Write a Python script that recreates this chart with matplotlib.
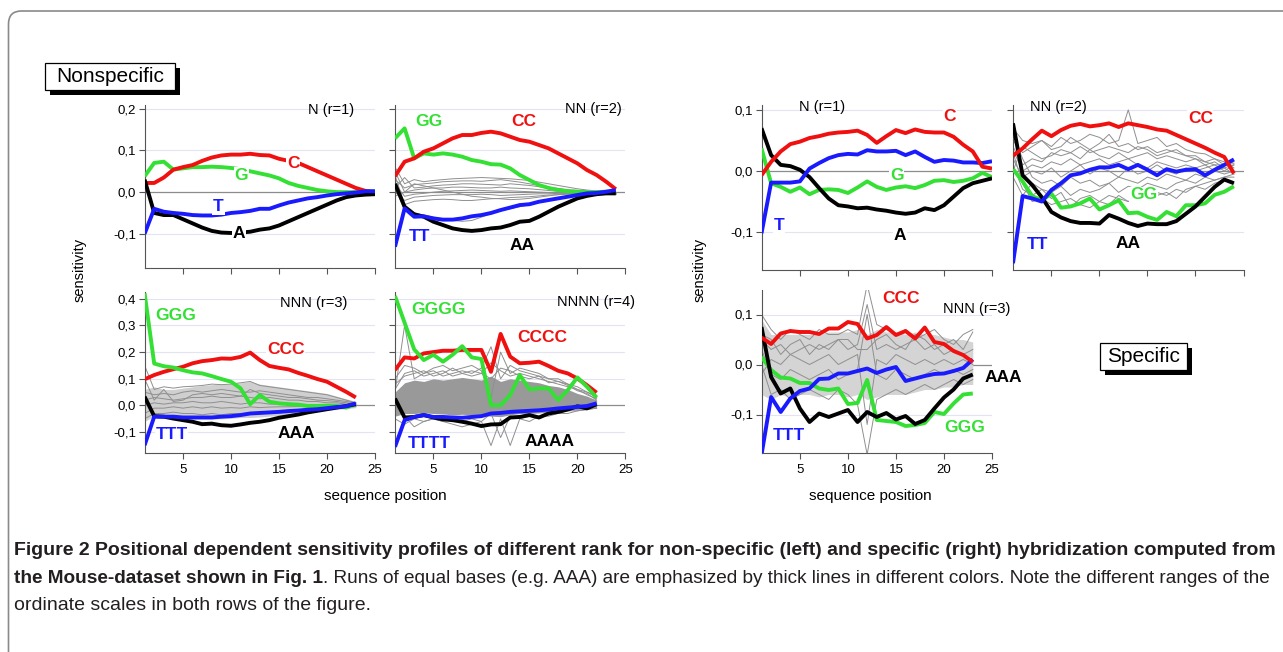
import matplotlib
matplotlib.use("Agg")
import matplotlib.pyplot as plt
from matplotlib.patches import Rectangle, FancyBboxPatch
from matplotlib.transforms import IdentityTransform
from matplotlib.ticker import FuncFormatter

W, H = 1283, 652

# ---- nonspecific, rank 1 (positions 1..25)
ns1_C = [0.022, 0.022, 0.035, 0.054, 0.060, 0.065, 0.075, 0.083, 0.088, 0.090, 0.090, 0.092, 0.089, 0.088, 0.080, 0.075, 0.070, 0.060, 0.050, 0.040, 0.030, 0.020, 0.010, 0.003, 0.000]
ns1_G = [0.038, 0.070, 0.073, 0.054, 0.057, 0.060, 0.060, 0.061, 0.060, 0.058, 0.055, 0.050, 0.045, 0.040, 0.033, 0.022, 0.015, 0.010, 0.005, 0.002, 0.000, 0.000, 0.000, 0.001, 0.002]
ns1_T = [-0.100, -0.040, -0.047, -0.050, -0.052, -0.055, -0.056, -0.056, -0.054, -0.050, -0.048, -0.045, -0.040, -0.040, -0.032, -0.025, -0.020, -0.015, -0.012, -0.008, -0.005, -0.003, -0.001, 0.002, 0.002]
ns1_A = [0.030, -0.050, -0.055, -0.055, -0.065, -0.075, -0.085, -0.093, -0.097, -0.098, -0.097, -0.095, -0.090, -0.087, -0.080, -0.070, -0.060, -0.050, -0.040, -0.030, -0.020, -0.012, -0.008, -0.006, -0.005]

# ---- nonspecific, rank 2 (positions 1..24)
ns2_C = [0.038, 0.073, 0.081, 0.097, 0.105, 0.117, 0.129, 0.137, 0.137, 0.142, 0.145, 0.141, 0.133, 0.125, 0.121, 0.113, 0.105, 0.093, 0.081, 0.069, 0.053, 0.041, 0.025, 0.007]
ns2_G = [0.129, 0.153, 0.081, 0.093, 0.090, 0.093, 0.090, 0.085, 0.077, 0.073, 0.067, 0.066, 0.057, 0.041, 0.029, 0.017, 0.010, 0.005, 0.002, 0.001, 0.000, 0.000, 0.001, 0.002]
ns2_T = [-0.131, -0.039, -0.059, -0.058, -0.063, -0.066, -0.066, -0.063, -0.058, -0.055, -0.050, -0.043, -0.037, -0.031, -0.029, -0.023, -0.019, -0.015, -0.011, -0.007, -0.003, -0.002, 0.001, 0.005]
ns2_A = [0.020, -0.035, -0.053, -0.059, -0.071, -0.079, -0.087, -0.091, -0.093, -0.091, -0.087, -0.085, -0.079, -0.071, -0.069, -0.059, -0.047, -0.035, -0.025, -0.015, -0.009, -0.005, -0.003, -0.003]
ns2_gray = [
    [0.06, 0.02, 0.03, 0.025, 0.028, 0.03, 0.032, 0.033, 0.034, 0.035, 0.034, 0.033, 0.032, 0.030, 0.028, 0.024, 0.02, 0.016, 0.012, 0.008, 0.005, 0.003, 0.001, -0.002],
    [0.03, 0.01, 0.018, 0.02, 0.022, 0.025, 0.026, 0.027, 0.027, 0.026, 0.028, 0.03, 0.027, 0.024, 0.02, 0.016, 0.012, 0.009, 0.006, 0.004, 0.002, 0.0, -0.001, -0.003],
    [0.01, 0.035, 0.01, 0.012, 0.015, 0.017, 0.018, 0.02, 0.02, 0.019, 0.018, 0.017, 0.02, 0.018, 0.016, 0.013, 0.01, 0.007, 0.004, 0.002, 0.0, -0.001, -0.002, -0.004],
    [-0.01, 0.0, 0.005, 0.008, 0.01, 0.01, 0.012, 0.012, 0.011, 0.01, 0.01, 0.012, 0.01, 0.009, 0.008, 0.006, 0.004, 0.002, 0.0, -0.001, -0.002, -0.002, -0.003, -0.004],
    [0.02, -0.01, -0.005, -0.003, 0.0, 0.002, 0.003, 0.004, 0.005, 0.004, 0.003, 0.002, 0.003, 0.002, 0.001, 0.0, -0.001, -0.002, -0.002, -0.003, -0.003, -0.003, -0.004, -0.005],
    [0.0, -0.02, -0.012, -0.01, -0.008, -0.007, -0.006, -0.006, -0.006, -0.005, -0.006, -0.008, -0.007, -0.006, -0.005, -0.004, -0.004, -0.003, -0.003, -0.003, -0.003, -0.003, -0.004, -0.005],
    [0.04, -0.03, -0.022, -0.02, -0.018, -0.017, -0.018, -0.02, -0.02, -0.018, -0.016, -0.015, -0.013, -0.012, -0.011, -0.009, -0.007, -0.006, -0.005, -0.004, -0.003, -0.003, -0.004, -0.005],
    [0.015, -0.045, -0.05, -0.055, -0.06, -0.065, -0.068, -0.07, -0.068, -0.06, -0.052, -0.045, -0.04, -0.035, -0.03, -0.025, -0.02, -0.015, -0.012, -0.009, -0.006, -0.004, -0.003, -0.004],
    [0.05, 0.0, 0.02, 0.015, 0.01, 0.005, 0.0, -0.005, -0.01, -0.012, -0.015, -0.016, -0.018, -0.017, -0.015, -0.012, -0.009, -0.006, -0.004, -0.003, -0.002, -0.002, -0.003, -0.005],
]

# ---- nonspecific, rank 3 (positions 1..23)
ns3_G = [0.420, 0.157, 0.147, 0.142, 0.132, 0.124, 0.120, 0.110, 0.099, 0.089, 0.064, 0.005, 0.039, 0.014, 0.008, 0.005, 0.003, -0.002, -0.002, -0.001, -0.001, -0.008, 0.005]
ns3_C = [0.098, 0.114, 0.126, 0.136, 0.145, 0.158, 0.166, 0.170, 0.176, 0.175, 0.182, 0.198, 0.170, 0.148, 0.141, 0.135, 0.122, 0.111, 0.099, 0.089, 0.070, 0.051, 0.030]
ns3_T = [-0.149, -0.042, -0.042, -0.042, -0.045, -0.045, -0.045, -0.045, -0.042, -0.040, -0.036, -0.030, -0.028, -0.026, -0.024, -0.021, -0.019, -0.016, -0.014, -0.010, -0.006, -0.003, 0.008]
ns3_A = [0.033, -0.040, -0.042, -0.049, -0.055, -0.061, -0.070, -0.068, -0.074, -0.076, -0.071, -0.065, -0.061, -0.055, -0.046, -0.040, -0.034, -0.026, -0.020, -0.014, -0.008, -0.002, 0.005]
ns3_upper = [0.06, 0.07, 0.06, 0.06, 0.065, 0.07, 0.075, 0.078, 0.08, 0.08, 0.085, 0.09, 0.08, 0.075, 0.07, 0.065, 0.06, 0.055, 0.05, 0.045, 0.035, 0.025, 0.015]
ns3_lower = [-0.06, -0.04, -0.045, -0.045, -0.048, -0.05, -0.05, -0.05, -0.05, -0.048, -0.045, -0.045, -0.043, -0.04, -0.038, -0.035, -0.03, -0.026, -0.022, -0.018, -0.015, -0.012, -0.008]
ns3_gray = [
    [0.15, 0.06, 0.07, 0.065, 0.07, 0.072, 0.075, 0.08, 0.078, 0.08, 0.085, 0.09, 0.075, 0.07, 0.065, 0.06, 0.055, 0.05, 0.045, 0.04, 0.03, 0.02, 0.01],
    [0.05, 0.04, 0.045, 0.04, 0.05, 0.055, 0.05, 0.055, 0.06, 0.055, 0.05, 0.05, 0.055, 0.05, 0.045, 0.04, 0.035, 0.03, 0.03, 0.025, 0.02, 0.015, 0.008],
    [0.02, 0.03, 0.025, 0.02, 0.025, 0.03, 0.03, 0.035, 0.03, 0.03, 0.035, 0.03, 0.025, 0.03, 0.025, 0.02, 0.02, 0.015, 0.015, 0.01, 0.01, 0.005, 0.003],
    [0.0, 0.01, 0.005, 0.01, 0.01, 0.015, 0.01, 0.01, 0.015, 0.01, 0.005, 0.01, 0.01, 0.005, 0.005, 0.005, 0.0, 0.0, 0.0, 0.0, -0.002, 0.0, 0.0],
    [-0.03, -0.01, -0.01, -0.005, -0.01, -0.005, -0.01, -0.005, -0.01, -0.008, -0.01, -0.005, -0.008, -0.006, -0.005, -0.005, -0.004, -0.004, -0.003, -0.003, -0.003, -0.002, -0.002],
    [-0.05, -0.03, -0.03, -0.025, -0.03, -0.03, -0.035, -0.03, -0.035, -0.03, -0.03, -0.028, -0.025, -0.025, -0.022, -0.02, -0.018, -0.015, -0.012, -0.01, -0.008, -0.006, -0.004],
    [0.1, 0.02, 0.06, 0.015, 0.02, 0.04, 0.045, 0.04, 0.045, 0.04, 0.035, 0.06, 0.045, 0.04, 0.035, 0.03, 0.03, 0.025, 0.02, 0.018, 0.015, 0.01, 0.005],
]

# ---- nonspecific, rank 4 (positions 1..22)
ns4_G = [0.410, 0.310, 0.210, 0.170, 0.190, 0.164, 0.190, 0.222, 0.180, 0.174, 0.001, 0.001, 0.039, 0.114, 0.060, 0.064, 0.064, 0.020, 0.058, 0.105, 0.070, 0.030]
ns4_C = [0.133, 0.180, 0.176, 0.195, 0.200, 0.205, 0.205, 0.208, 0.208, 0.208, 0.126, 0.268, 0.183, 0.158, 0.160, 0.164, 0.148, 0.130, 0.120, 0.101, 0.076, 0.048]
ns4_T = [-0.155, -0.055, -0.043, -0.036, -0.043, -0.043, -0.045, -0.046, -0.043, -0.040, -0.030, -0.028, -0.024, -0.022, -0.020, -0.018, -0.015, -0.011, -0.008, -0.005, -0.002, 0.008]
ns4_A = [0.026, -0.045, -0.043, -0.036, -0.045, -0.052, -0.055, -0.061, -0.068, -0.077, -0.071, -0.070, -0.045, -0.043, -0.036, -0.045, -0.030, -0.024, -0.015, -0.003, -0.011, 0.005]
ns4_upper = [0.05, 0.085, 0.095, 0.09, 0.1, 0.095, 0.1, 0.105, 0.1, 0.095, 0.11, 0.09, 0.1, 0.095, 0.09, 0.085, 0.075, 0.07, 0.06, 0.045, 0.035, 0.02]
ns4_lower = [-0.04, -0.03, -0.03, -0.028, -0.03, -0.032, -0.035, -0.033, -0.035, -0.038, -0.04, -0.042, -0.035, -0.03, -0.03, -0.028, -0.025, -0.02, -0.018, -0.015, -0.012, -0.01]
ns4_gray = [
    [0.05, 0.3, 0.1, 0.12, 0.13, 0.11, 0.12, 0.13, 0.12, 0.14, 0.22, 0.1, 0.15, 0.13, 0.12, 0.11, 0.1, 0.09, 0.08, 0.06, 0.05, 0.03],
    [0.1, 0.15, 0.14, 0.12, 0.14, 0.15, 0.13, 0.14, 0.15, 0.13, 0.03, 0.2, 0.12, 0.14, 0.13, 0.12, 0.1, 0.1, 0.08, 0.07, 0.05, 0.035],
    [0.08, 0.11, 0.12, 0.13, 0.11, 0.12, 0.14, 0.12, 0.13, 0.12, 0.16, 0.13, 0.11, 0.12, 0.11, 0.1, 0.09, 0.08, 0.07, 0.06, 0.04, 0.025],
    [0.06, 0.12, 0.13, 0.11, 0.12, 0.13, 0.11, 0.12, 0.11, 0.12, 0.1, 0.14, 0.13, 0.11, 0.1, 0.11, 0.085, 0.09, 0.075, 0.055, 0.045, 0.02],
    [-0.05, -0.07, -0.05, -0.06, -0.05, -0.06, -0.05, -0.06, -0.05, -0.06, -0.15, -0.05, -0.15, -0.05, -0.04, -0.05, -0.03, -0.03, -0.02, -0.02, -0.015, -0.01],
    [0.0, -0.04, -0.08, -0.06, -0.05, -0.06, -0.07, -0.08, -0.07, -0.06, -0.03, -0.12, -0.04, -0.05, -0.06, -0.04, -0.04, -0.03, -0.03, -0.02, -0.015, -0.01],
]

# ---- specific, rank 1 (positions 1..25)
sp1_C = [-0.007, 0.015, 0.032, 0.044, 0.048, 0.054, 0.057, 0.061, 0.063, 0.064, 0.066, 0.059, 0.046, 0.057, 0.067, 0.062, 0.068, 0.064, 0.063, 0.063, 0.056, 0.043, 0.032, 0.007, 0.004]
sp1_T = [-0.102, -0.019, -0.019, -0.019, -0.017, 0.004, 0.013, 0.021, 0.026, 0.028, 0.027, 0.034, 0.032, 0.032, 0.033, 0.026, 0.032, 0.023, 0.015, 0.018, 0.017, 0.014, 0.014, 0.013, 0.016]
sp1_G = [0.037, -0.020, -0.026, -0.034, -0.027, -0.038, -0.031, -0.030, -0.031, -0.036, -0.027, -0.017, -0.026, -0.031, -0.027, -0.025, -0.028, -0.023, -0.016, -0.015, -0.018, -0.016, -0.012, -0.003, -0.010]
sp1_A = [0.070, 0.026, 0.010, 0.008, 0.002, -0.010, -0.028, -0.045, -0.056, -0.058, -0.061, -0.060, -0.063, -0.065, -0.068, -0.070, -0.068, -0.061, -0.064, -0.056, -0.042, -0.028, -0.020, -0.016, -0.012]

# ---- specific, rank 2 (positions 1..24)
sp2_C = [0.025, 0.037, 0.052, 0.066, 0.057, 0.067, 0.074, 0.077, 0.073, 0.075, 0.078, 0.072, 0.078, 0.075, 0.072, 0.068, 0.066, 0.059, 0.052, 0.045, 0.038, 0.030, 0.023, -0.004]
sp2_A = [0.078, -0.007, -0.023, -0.043, -0.067, -0.076, -0.082, -0.085, -0.085, -0.086, -0.072, -0.078, -0.085, -0.090, -0.086, -0.087, -0.087, -0.082, -0.070, -0.058, -0.042, -0.026, -0.014, -0.020]
sp2_G = [0.003, -0.017, -0.041, -0.048, -0.037, -0.060, -0.058, -0.053, -0.045, -0.063, -0.056, -0.048, -0.069, -0.068, -0.075, -0.080, -0.067, -0.074, -0.056, -0.056, -0.053, -0.039, -0.034, -0.025]
sp2_T = [-0.151, -0.041, -0.045, -0.050, -0.031, -0.020, -0.007, -0.004, 0.002, 0.006, 0.006, 0.010, 0.003, 0.010, 0.002, -0.007, 0.003, -0.001, 0.002, 0.003, -0.007, 0.002, 0.010, 0.019]
sp2_gray = [
    [0.07, 0.05, 0.045, 0.05, 0.04, 0.055, 0.045, 0.05, 0.06, 0.055, 0.045, 0.05, 0.1, 0.045, 0.05, 0.055, 0.04, 0.045, 0.035, 0.03, 0.028, 0.02, 0.015, 0.005],
    [0.05, 0.03, 0.04, 0.05, 0.035, 0.04, 0.055, 0.045, 0.035, 0.045, 0.06, 0.04, 0.045, 0.035, 0.04, 0.03, 0.035, 0.03, 0.025, 0.025, 0.015, 0.01, 0.01, 0.012],
    [0.04, 0.01, 0.02, 0.015, 0.03, 0.025, 0.03, 0.02, 0.035, 0.025, 0.02, 0.03, 0.02, 0.025, 0.03, 0.02, 0.025, 0.02, 0.015, 0.02, 0.01, 0.015, 0.005, 0.01],
    [0.035, 0.0, 0.01, 0.005, 0.015, 0.01, 0.02, 0.01, 0.015, 0.02, 0.01, 0.015, 0.02, 0.01, 0.005, 0.015, 0.01, 0.005, 0.01, 0.005, 0.01, 0.0, 0.005, -0.005],
    [0.02, -0.01, 0.0, -0.005, 0.005, -0.01, 0.0, 0.01, -0.005, 0.005, 0.0, -0.01, 0.005, -0.005, 0.0, 0.01, 0.0, -0.005, 0.005, 0.0, 0.005, 0.01, 0.0, 0.01],
    [0.06, 0.02, -0.01, -0.02, -0.015, -0.025, -0.01, -0.02, -0.015, -0.025, -0.02, -0.01, -0.015, -0.02, -0.01, -0.015, -0.005, -0.01, -0.015, -0.005, -0.01, 0.0, -0.005, 0.0],
    [0.01, -0.03, -0.04, -0.03, -0.035, -0.025, -0.04, -0.03, -0.035, -0.03, -0.02, -0.035, -0.025, -0.03, -0.02, -0.025, -0.03, -0.02, -0.015, -0.02, -0.01, -0.015, -0.01, -0.01],
    [0.03, -0.02, -0.05, -0.045, -0.055, -0.05, -0.045, -0.055, -0.06, -0.05, -0.04, -0.045, -0.05, -0.04, -0.045, -0.035, -0.04, -0.03, -0.035, -0.025, -0.02, -0.015, -0.01, -0.005],
    [0.0, 0.04, 0.03, 0.02, 0.025, 0.035, 0.03, 0.04, 0.03, 0.035, 0.04, 0.035, 0.03, 0.04, 0.035, 0.025, 0.03, 0.035, 0.025, 0.02, 0.015, 0.02, 0.01, 0.015],
    [-0.01, -0.04, -0.02, -0.03, -0.045, -0.035, -0.06, -0.045, -0.04, -0.05, -0.055, -0.04, -0.05, -0.045, -0.05, -0.04, -0.035, -0.045, -0.03, -0.025, -0.03, -0.02, -0.015, -0.02],
]

# ---- specific, rank 3 (positions 1..23)
sp3_C = [0.054, 0.041, 0.062, 0.067, 0.065, 0.065, 0.061, 0.072, 0.072, 0.085, 0.081, 0.052, 0.059, 0.075, 0.059, 0.067, 0.052, 0.074, 0.045, 0.041, 0.027, 0.019, 0.005]
sp3_T = [-0.181, -0.065, -0.095, -0.068, -0.053, -0.048, -0.029, -0.028, -0.018, -0.018, -0.013, -0.008, -0.017, -0.010, -0.005, -0.033, -0.028, -0.023, -0.019, -0.018, -0.013, -0.007, 0.010]
sp3_A = [0.075, -0.025, -0.058, -0.048, -0.088, -0.115, -0.098, -0.105, -0.098, -0.091, -0.115, -0.095, -0.105, -0.097, -0.110, -0.103, -0.119, -0.111, -0.088, -0.066, -0.050, -0.028, -0.020]
sp3_G = [0.015, -0.011, -0.026, -0.028, -0.037, -0.037, -0.048, -0.051, -0.048, -0.079, -0.077, -0.031, -0.111, -0.113, -0.115, -0.123, -0.121, -0.117, -0.095, -0.099, -0.078, -0.060, -0.058]
sp3_upper = [0.09, 0.06, 0.06, 0.06, 0.06, 0.06, 0.06, 0.065, 0.065, 0.065, 0.07, 0.06, 0.07, 0.065, 0.065, 0.06, 0.065, 0.06, 0.06, 0.055, 0.05, 0.05, 0.045]
sp3_lower = [-0.06, -0.07, -0.06, -0.065, -0.06, -0.06, -0.065, -0.06, -0.06, -0.065, -0.06, -0.07, -0.065, -0.06, -0.06, -0.06, -0.055, -0.05, -0.05, -0.045, -0.045, -0.04, -0.04]
sp3_gray = [
    [0.1, 0.07, 0.05, 0.07, 0.06, 0.05, 0.07, 0.06, 0.06, 0.07, 0.06, 0.16, 0.08, 0.07, 0.06, 0.07, 0.05, 0.06, 0.07, 0.05, 0.04, 0.06, 0.07],
    [0.0, -0.06, -0.05, -0.07, -0.06, -0.05, -0.06, -0.07, -0.05, -0.06, -0.08, -0.18, -0.07, -0.06, -0.05, -0.06, -0.05, -0.04, -0.05, -0.04, -0.03, -0.04, -0.03],
    [0.05, 0.03, 0.04, 0.02, 0.03, 0.04, 0.03, 0.04, 0.05, 0.03, 0.04, 0.12, 0.03, 0.04, 0.03, 0.04, 0.05, 0.03, 0.04, 0.02, 0.03, 0.02, 0.03],
    [-0.02, 0.01, 0.0, 0.02, 0.01, 0.0, 0.01, 0.02, 0.0, 0.01, 0.02, -0.12, 0.01, 0.0, 0.02, 0.01, 0.0, 0.01, 0.0, 0.01, 0.0, 0.01, 0.0],
    [0.03, -0.02, -0.03, -0.01, -0.02, -0.03, -0.02, -0.01, -0.03, -0.02, -0.01, 0.1, -0.02, -0.03, -0.01, -0.02, -0.03, -0.02, -0.01, -0.02, -0.01, -0.02, -0.01],
    [0.06, 0.05, 0.02, 0.04, 0.05, 0.02, 0.04, 0.03, 0.05, 0.05, 0.03, 0.03, 0.05, 0.06, 0.04, 0.03, 0.06, 0.05, 0.03, 0.04, 0.05, 0.03, 0.065],
]

RED, GREEN, BLUE, BLACK = "#f01010", "#33e033", "#1a1aff", "#000000"
CHART_FONT = ["Liberation Sans", "DejaVu Sans"]
CAP_FONT = ["Liberation Sans", "DejaVu Sans"]


def box(l, t, r, b):
    """pixel box (left, top, right, bottom) -> figure fraction rect"""
    return [l / W, 1 - b / H, (r - l) / W, (b - t) / H]


def comma(v, pos):
    return f"{v:.1f}".replace(".", ",")


def draw_panel(ax, runs, ylim, yticks, ylabels, xlabels, grays=(), band=None, band_color="#cccccc"):
    ax.set_xlim(1, 25)
    ax.set_ylim(*ylim)
    for yt in yticks:
        if yt == 0:
            ax.axhline(0, color="#8c8c8c", lw=0.9, zorder=1)
        else:
            ax.axhline(yt, color="#e3e3f3", lw=0.8, zorder=0)
    if band is not None:
        lo, hi = band
        xs = list(range(1, len(hi) + 1))
        ax.fill_between(xs, lo, hi, color=band_color, lw=0, zorder=1)
    for g in grays:
        ax.plot(range(1, len(g) + 1), g, color="#8f8f8f", lw=0.7, zorder=2)
    for vals, col in runs:
        ax.plot(range(1, len(vals) + 1), vals, color=col, lw=2.8, zorder=3,
                solid_joinstyle="round", solid_capstyle="butt")
    for s in ("top", "right"):
        ax.spines[s].set_visible(False)
    for s in ("left", "bottom"):
        ax.spines[s].set_color("#555555")
        ax.spines[s].set_linewidth(0.8)
    ax.set_xticks([5, 10, 15, 20, 25])
    ax.set_yticks(yticks)
    ax.yaxis.set_major_formatter(FuncFormatter(comma))
    ax.tick_params(direction="out", length=4, width=0.8, color="#555555",
                   labelsize=9.5, pad=2)
    ax.tick_params(axis="x", labelbottom=xlabels, pad=4)
    ax.tick_params(axis="y", labelleft=ylabels)
    for lab in ax.get_xticklabels() + ax.get_yticklabels():
        lab.set_family(CHART_FONT)
    ax.set_facecolor("none")


def put_labels(ax, labels, title, title_xy, title_ha="center"):
    for x, y, s, col in labels:
        ax.text(x, y, s, color=col, fontsize=12.5, fontweight="bold", ha="center",
                va="center", family=CHART_FONT, zorder=5,
                bbox=dict(fc="white", ec="none", pad=0.5))
    ax.text(title_xy[0], title_xy[1], title, fontsize=10.5, ha=title_ha, va="center",
            family=CHART_FONT, zorder=5)


def shadow_box(fig, l, t, r, b, text):
    # black drop shadow, then the white box on top
    fig.add_artist(Rectangle(((l + 5) / W, 1 - (b + 5) / H), (r - l) / W, (b - t) / H,
                             transform=fig.transFigure, fc="black", ec="none"))
    fig.add_artist(Rectangle((l / W, 1 - b / H), (r - l) / W, (b - t) / H,
                             transform=fig.transFigure, fc="white", ec="black", lw=0.9))
    fig.text((l + r) / 2 / W, 1 - (t + b) / 2 / H, text, fontsize=15, ha="center",
             va="center", family=CHART_FONT)


def fit_width(fig, texts, target, fs):
    """scale font size of a row of texts so that the row spans target pixels"""
    r = fig.canvas.get_renderer()
    for _ in range(3):
        fig.canvas.draw()
        x0 = texts[0].get_window_extent(r).x0
        x1 = texts[-1].get_window_extent(r).x1
        fs = fs * target / (x1 - x0)
        for t in texts:
            t.set_fontsize(fs)
        if len(texts) > 1:
            fig.canvas.draw()
            xa = texts[0].get_window_extent(r).x1
            texts[1].set_x(xa / W)
    return fs


def main():
    fig = plt.figure(figsize=(W / 100, H / 100), dpi=100)

    # outer rounded frame
    fig.add_artist(FancyBboxPatch((8.5, -60), 1400, H - 11 + 60,
                                  boxstyle="round,pad=0,rounding_size=13",
                                  transform=IdentityTransform(), fc="none",
                                  ec="#8a8a8a", lw=1.2))

    # ---------------- nonspecific
    ax = fig.add_axes(box(144.6, 105, 375, 268))
    draw_panel(ax, [(ns1_G, GREEN), (ns1_C, RED), (ns1_A, BLACK), (ns1_T, BLUE)],
               (-0.182, 0.209), [-0.1, 0.0, 0.1, 0.2], True, False)
    put_labels(ax, [(16.5, 0.069, "C", RED), (11.1, 0.041, "G", GREEN),
                    (8.7, -0.035, "T", BLUE), (10.8, -0.1, "A", BLACK)],
               "N (r=1)", (20.4, 0.197))

    ax = fig.add_axes(box(395, 105, 625.4, 268))
    draw_panel(ax, [(ns2_G, GREEN), (ns2_C, RED), (ns2_A, BLACK), (ns2_T, BLUE)],
               (-0.182, 0.209), [-0.1, 0.0, 0.1, 0.2], False, False, grays=ns2_gray)
    put_labels(ax, [(4.5, 0.169, "GG", GREEN), (14.4, 0.169, "CC", RED),
                    (3.6, -0.107, "TT", BLUE), (14.2, -0.127, "AA", BLACK)],
               "NN (r=2)", (21.7, 0.2))

    ax = fig.add_axes(box(144.6, 292, 375, 453))
    draw_panel(ax, [(ns3_C, RED), (ns3_G, GREEN), (ns3_A, BLACK), (ns3_T, BLUE)],
               (-0.178, 0.425), [-0.1, 0.0, 0.1, 0.2, 0.3, 0.4], True, True,
               grays=ns3_gray, band=(ns3_lower, ns3_upper), band_color="#cfcfcf")
    put_labels(ax, [(4.2, 0.338, "GGG", GREEN), (15.7, 0.21, "CCC", RED),
                    (3.8, -0.107, "TTT", BLUE), (16.8, -0.105, "AAA", BLACK)],
               "NNN (r=3)", (18.6, 0.382))

    ax = fig.add_axes(box(395, 292, 625.4, 453))
    draw_panel(ax, [(ns4_C, RED), (ns4_G, GREEN), (ns4_A, BLACK), (ns4_T, BLUE)],
               (-0.178, 0.425), [-0.1, 0.0, 0.1, 0.2, 0.3, 0.4], False, True,
               grays=ns4_gray, band=(ns4_lower, ns4_upper), band_color="#999999")
    put_labels(ax, [(5.5, 0.36, "GGGG", GREEN), (16.3, 0.255, "CCCC", RED),
                    (4.6, -0.142, "TTTT", BLUE), (17.1, -0.136, "AAAA", BLACK)],
               "NNNN (r=4)", (21.9, 0.388))

    # ---------------- specific
    ax = fig.add_axes(box(761.5, 105, 992, 270))
    draw_panel(ax, [(sp1_G, GREEN), (sp1_A, BLACK), (sp1_T, BLUE), (sp1_C, RED)],
               (-0.162, 0.108), [-0.1, 0.0, 0.1], True, False)
    put_labels(ax, [(20.6, 0.089, "C", RED), (15.1, -0.008, "G", GREEN),
                    (2.85, -0.089, "T", BLUE), (15.4, -0.105, "A", BLACK)],
               "N (r=1)", (7.3, 0.105))

    ax = fig.add_axes(box(1013, 105, 1243.5, 270))
    draw_panel(ax, [(sp2_G, GREEN), (sp2_A, BLACK), (sp2_T, BLUE), (sp2_C, RED)],
               (-0.162, 0.108), [-0.1, 0.0, 0.1], False, False, grays=sp2_gray)
    put_labels(ax, [(20.5, 0.086, "CC", RED), (14.6, -0.039, "GG", GREEN),
                    (3.5, -0.121, "TT", BLUE), (13.0, -0.119, "AA", BLACK)],
               "NN (r=2)", (5.7, 0.105))

    ax = fig.add_axes(box(761.5, 290, 992, 453))
    draw_panel(ax, [(sp3_G, GREEN), (sp3_A, BLACK), (sp3_T, BLUE), (sp3_C, RED)],
               (-0.177, 0.149), [-0.1, 0.0, 0.1], True, True,
               grays=sp3_gray, band=(sp3_lower, sp3_upper), band_color="#d4d4d4")
    put_labels(ax, [(15.5, 0.132, "CCC", RED), (22.2, -0.125, "GGG", GREEN),
                    (3.9, -0.141, "TTT", BLUE), (26.2, -0.025, "AAA", BLACK)],
               "NNN (r=3)", (19.9, 0.11), title_ha="left")

    # axis titles
    fig.text(80 / W, 1 - 270 / H, "sensitivity", rotation=90, fontsize=10.5,
             ha="center", va="center", family=CHART_FONT)
    fig.text(700 / W, 1 - 270 / H, "sensitivity", rotation=90, fontsize=10.5,
             ha="center", va="center", family=CHART_FONT)
    fig.text(385 / W, 1 - 496 / H, "sequence position", fontsize=11,
             ha="center", va="center", family=CHART_FONT)
    fig.text(870 / W, 1 - 496 / H, "sequence position", fontsize=11,
             ha="center", va="center", family=CHART_FONT)

    shadow_box(fig, 45, 63, 175, 90, "Nonspecific")
    shadow_box(fig, 1100, 343, 1187, 370, "Specific")

    # caption
    cap_col = "#231f20"
    line1 = ("Figure 2 Positional dependent sensitivity profiles of different rank for "
             "non-specific (left) and specific (right) hybridization computed from")
    t1 = fig.text(14 / W, 1 - 555 / H, line1, fontsize=11, fontweight="bold",
                  family=CAP_FONT, va="baseline", color=cap_col)
    fs1 = fit_width(fig, [t1], 1258, 11)

    t2a = fig.text(14 / W, 1 - 583 / H, "the Mouse-dataset shown in Fig. 1", fontsize=11,
                   fontweight="bold", family=CAP_FONT, va="baseline", color=cap_col)
    t2b = fig.text(400 / W, 1 - 583 / H,
                   ". Runs of equal bases (e.g. AAA) are emphasized by thick lines in different "
                   "colors. Note the different ranges of the", fontsize=11, family=CAP_FONT,
                   va="baseline", color=cap_col)
    fit_width(fig, [t2a, t2b], 1258, 11)
    fig.text(14 / W, 1 - 610 / H, "ordinate scales in both rows of the figure.",
             fontsize=fs1, family=CAP_FONT, va="baseline", color=cap_col)

    fig.savefig("out.png", dpi=100, facecolor="white")


if __name__ == "__main__":
    main()
